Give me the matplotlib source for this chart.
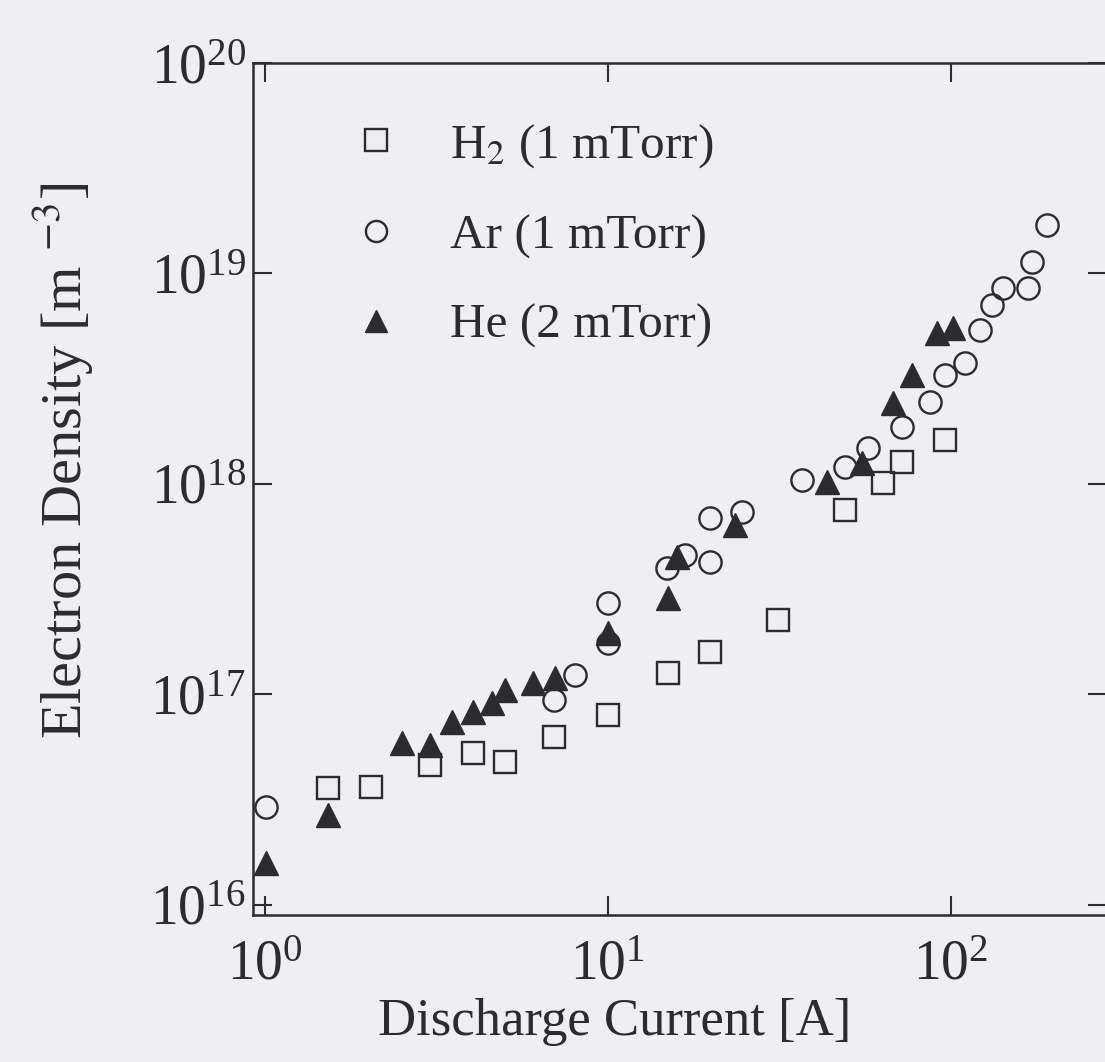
import matplotlib
matplotlib.use("Agg")
import matplotlib.pyplot as plt
from matplotlib.ticker import LogLocator, NullLocator

plt.rcParams['font.family'] = 'serif'
plt.rcParams['font.serif'] = ['Liberation Serif', 'DejaVu Serif']
plt.rcParams['mathtext.fontset'] = 'stix'

# discharge current [A] and electron density [m^-3]
h2_current = [1.53, 2.04, 3.03, 4.04, 5.01, 6.96, 10.0, 14.96, 19.8, 31.3, 49.1, 63.4, 71.9, 96.1]
h2_density = [3.6e16, 3.64e16, 4.63e16, 5.27e16, 4.78e16, 6.28e16, 8.0e16, 1.26e17, 1.59e17,
              2.26e17, 7.5e17, 1.01e18, 1.27e18, 1.62e18]

ar_current = [1.01, 6.98, 8.0, 10.0, 10.0, 14.9, 16.8, 19.8, 19.8, 24.6, 36.8, 49.1, 57.3,
              71.9, 86.9, 96.1, 109.9, 121.5, 131.7, 141.8, 167.6, 172.2, 190.5]
ar_density = [2.92e16, 9.4e16, 1.24e17, 1.76e17, 2.72e17, 3.99e17, 4.6e17, 4.26e17, 6.88e17,
              7.36e17, 1.045e18, 1.2e18, 1.48e18, 1.87e18, 2.45e18, 3.3e18, 3.76e18, 5.4e18,
              7.08e18, 8.5e18, 8.5e18, 1.13e19, 1.7e19]

he_current = [1.01, 1.53, 2.51, 3.03, 3.51, 4.04, 4.59, 5.01, 6.04, 7.0, 10.0, 14.96, 15.9,
              23.5, 43.5, 55.0, 67.8, 76.9, 91.0, 101.4]
he_density = [1.58e16, 2.68e16, 5.89e16, 5.75e16, 7.4e16, 8.26e16, 9.1e16, 1.05e17, 1.13e17,
              1.2e17, 1.96e17, 2.87e17, 4.5e17, 6.38e17, 1.02e18, 1.26e18, 2.43e18, 3.3e18,
              5.2e18, 5.5e18]

ink = '#2b2b30'
bg = '#eeeef3'

fig = plt.figure(figsize=(11.05, 10.62), dpi=100, facecolor=bg)
ax = fig.add_axes([253 / 1105, 147 / 1062, (1107 - 253) / 1105, (915 - 63) / 1062])
ax.set_facecolor(bg)

ax.plot(h2_current, h2_density, 's', ms=16, mfc='none', mec=ink, mew=1.7,
        label=r'H$_{\rm 2}$ (1 mTorr)')
ax.plot(ar_current, ar_density, 'o', ms=16, mfc='none', mec=ink, mew=1.7,
        label='Ar (1 mTorr)')
ax.plot(he_current, he_density, '^', ms=17, mfc=ink, mec=ink, mew=1.0,
        label='He (2 mTorr)')

ax.set_xscale('log')
ax.set_yscale('log')
ax.set_xlim(0.923, 285)
ax.set_ylim(10 ** 15.952, 1e20)

ax.xaxis.set_major_locator(LogLocator(base=10, numticks=10))
ax.yaxis.set_major_locator(LogLocator(base=10, numticks=10))
ax.xaxis.set_minor_locator(NullLocator())
ax.yaxis.set_minor_locator(NullLocator())

for s in ax.spines.values():
    s.set_linewidth(1.8)
    s.set_color(ink)

ax.tick_params(which='major', direction='in', length=14, width=1.5, colors=ink,
               top=True, right=True, labelsize=40)
ax.tick_params(axis='x', pad=18)
ax.tick_params(axis='y', pad=5)

ax.set_xlabel('Discharge Current [A]', fontsize=38, color=ink)
ax.xaxis.set_label_coords(0.423, -0.097)
ax.set_ylabel(r'Electron Density [m $^{-3}$]', fontsize=42, color=ink)
ax.yaxis.set_label_coords(-0.184, 0.533)

leg = ax.legend(loc='upper left', bbox_to_anchor=(351 / 1105, 1 - 122 / 1062),
                bbox_transform=fig.transFigure, frameon=False, fontsize=35.5,
                handlelength=1.0, handletextpad=1.0, borderpad=0, borderaxespad=0,
                labelspacing=0.9, markerscale=0.95)
for t in leg.get_texts():
    t.set_color(ink)

fig.savefig('out.png', dpi=100, facecolor=bg)
